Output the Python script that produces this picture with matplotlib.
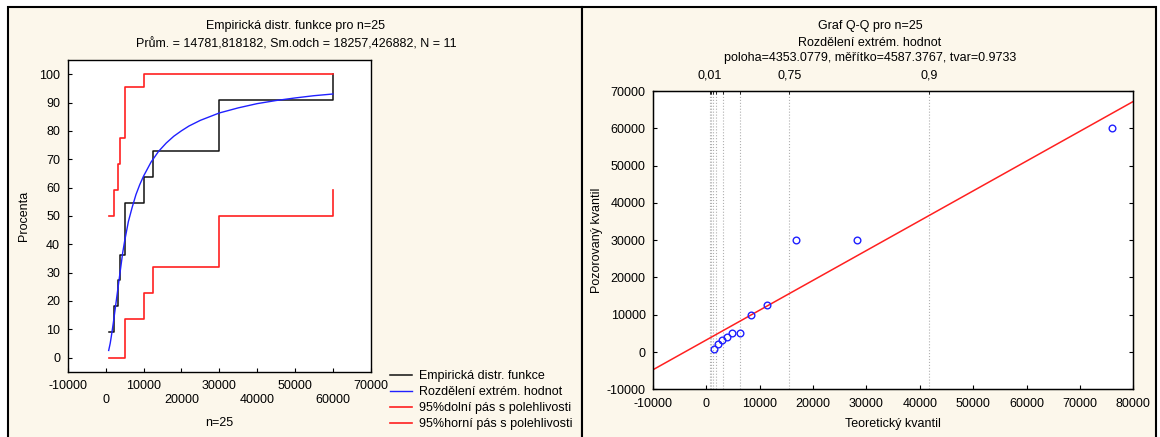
import matplotlib
matplotlib.use("Agg")
import matplotlib.pyplot as plt
import numpy as np
from matplotlib.patches import Rectangle

plt.rcParams['font.family'] = ['Liberation Sans', 'DejaVu Sans']
plt.rcParams['font.size'] = 9
plt.rcParams['axes.unicode_minus'] = False

# observed data (N = 11), sorted
obs = [900, 2100, 3200, 3900, 5000, 5000, 10000, 12500, 30000, 30000, 60000]
ecdf_pct = [9.09, 18.18, 27.27, 36.36, 45.45, 54.55, 63.64, 72.73, 81.82, 90.91, 100.0]
upper_band = [50.0, 59.1, 68.2, 77.3, 86.4, 95.5, 100.0, 100.0, 100.0, 100.0, 100.0]
lower_band = [0.0, 0.0, 0.0, 0.0, 4.5, 13.6, 22.7, 31.8, 40.9, 50.0, 59.1]

# fitted extreme value distribution curve
fit_x = [800, 1200, 1500, 2000, 2500, 3000, 3500, 4000, 4500, 5000, 6000, 7000, 8000,
         9000, 10000, 12000, 14000, 16000, 18000, 20000, 22000, 25000, 30000, 35000,
         40000, 45000, 50000, 55000, 60000]
fit_pct = [2.5, 5, 7.5, 12, 17, 22, 27, 32, 37, 41, 48, 53, 57.5,
           61, 64, 69, 72.8, 75.7, 78.1, 80.0, 81.7, 83.7, 86.3, 88.1,
           89.6, 90.7, 91.6, 92.4, 93.0]

# Q-Q plot
theor_q = [1400, 2150, 2900, 3830, 4880, 6320, 8500, 11420, 16790, 28320, 76090]
line_intercept = 3200
line_slope = 0.80
prob_pos = [710, 950, 1300, 1800, 3150, 6350, 15600, 41770]
prob_lab = ['0,01', '', '', '', '', '', '0,75', '0,9']

W, H = 1160, 437
fig = plt.figure(figsize=(W / 100, H / 100), dpi=100)
fig.patch.set_facecolor('white')
cream = '#fcf7eb'


def fx(x):
    return x / W


def fy(y):
    return 1 - y / H


# panel frames
for x0, x1 in [(8, 582), (582, 1156)]:
    fig.add_artist(Rectangle((fx(x0), -0.02), fx(x1 - x0), fy(7) + 0.02,
                             transform=fig.transFigure, facecolor=cream,
                             edgecolor='black', lw=1.5, zorder=0))

# ---- left panel: empirical CDF
ax1 = fig.add_axes([fx(67.8), fy(371.7), fx(370.7 - 67.8), (371.7 - 60) / H])
ax1.step(obs, ecdf_pct, where='post', color='#111111', lw=1.1,
         label='Empirická distr. funkce')
ax1.plot(fit_x, fit_pct, color='#2020ff', lw=1.0, label='Rozdělení extrém. hodnot')
ax1.step(obs, lower_band, where='post', color='#ff2020', lw=1.2,
         label='95%dolní pás s polehlivosti')
ax1.step(obs, upper_band, where='post', color='#ff2020', lw=1.2,
         label='95%horní pás s polehlivosti')
ax1.set_xlim(-10000, 70000)
ax1.set_ylim(-5, 105)
xt = np.arange(-10000, 70001, 10000)
ax1.set_xticks(xt)
ax1.set_xticklabels([('%d' % v) if i % 2 == 0 else ('\n%d' % v) for i, v in enumerate(xt)])
ax1.set_yticks(np.arange(0, 101, 10))
ax1.tick_params(direction='in', length=3, width=0.8)
ax1.tick_params(axis='x', pad=6)
ax1.tick_params(axis='y', pad=5.5)
for s in ax1.spines.values():
    s.set_linewidth(1.0)

leg = ax1.legend(loc='upper left', bbox_to_anchor=(fx(390), fy(370)),
                 bbox_transform=fig.transFigure, frameon=False, borderpad=0,
                 borderaxespad=0, handlelength=1.75, handletextpad=0.55,
                 labelspacing=0.33)

fig.text(fx(295), fy(25.7), 'Empirická distr. funkce pro n=25', ha='center', va='center')
fig.text(fx(296), fy(44.3), 'Prům. = 14781,818182, Sm.odch = 18257,426882, N = 11',
         ha='center', va='center')
fig.text(fx(24), fy(216), 'Procenta', rotation=90, ha='center', va='center')
fig.text(fx(219), fy(422.7), 'n=25', ha='center', va='center')

# ---- right panel: Q-Q plot
ax2 = fig.add_axes([fx(652.7), fy(389.3), fx(1133.3 - 652.7), (389.3 - 91) / H])
for p in prob_pos:
    ax2.axvline(p, color='#b0b0b0', lw=0.8, ls=':', zorder=1)
ax2.axline((0, line_intercept), slope=line_slope, color='#ff2020', lw=1.1, zorder=2)
ax2.plot(theor_q, obs, 'o', mfc='none', mec='#2020ff', ms=4.8, mew=1.0, zorder=3)
ax2.set_xlim(-10000, 80000)
ax2.set_ylim(-10000, 70000)
ax2.set_xticks(np.arange(-10000, 80001, 10000))
ax2.set_yticks(np.arange(-10000, 70001, 10000))
ax2.tick_params(direction='in', length=3, width=0.8, right=True)
ax2.tick_params(axis='x', pad=6)
ax2.tick_params(axis='y', pad=5)
for s in ax2.spines.values():
    s.set_linewidth(1.0)

ax3 = ax2.twiny()
ax3.set_xlim(ax2.get_xlim())
ax3.set_xticks(prob_pos)
ax3.set_xticklabels(prob_lab)
ax3.tick_params(direction='in', length=2, width=0.6, pad=7)

fig.text(fx(870), fy(25.7), 'Graf Q-Q pro n=25', ha='center', va='center')
fig.text(fx(870), fy(43.3), 'Rozdělení extrém. hodnot', ha='center', va='center')
fig.text(fx(870), fy(58.3), 'poloha=4353.0779, měřítko=4587.3767, tvar=0.9733',
         ha='center', va='center')
fig.text(fx(597), fy(240), 'Pozorovaný kvantil', rotation=90, ha='center', va='center')
fig.text(fx(893), fy(424), 'Teoretický kvantil', ha='center', va='center')

fig.savefig('out.png', dpi=100)
